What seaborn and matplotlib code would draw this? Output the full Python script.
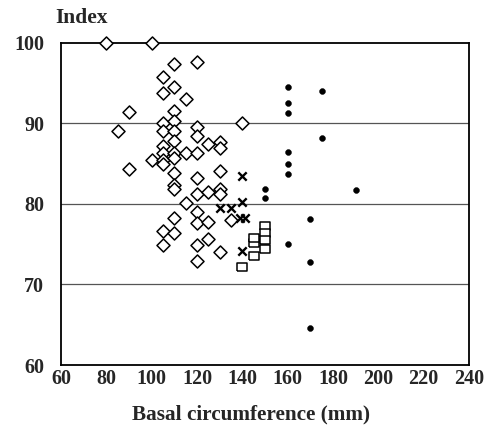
import matplotlib
matplotlib.use("Agg")
import matplotlib.pyplot as plt
import seaborn as sns
import pandas as pd

# Diamonds (open)
diamond_x = [80, 85, 90, 90, 100, 100,
             105, 105, 105, 105, 105, 105, 105, 105, 105, 105,
             110, 110, 110, 110, 110, 110, 110, 110, 110, 110, 110, 110, 110,
             115, 115, 115,
             120, 120, 120, 120, 120, 120, 120, 120, 120, 120,
             125, 125, 125, 125,
             130, 130, 130, 130, 130, 130,
             135, 140]
diamond_y = [100.0, 89.1, 91.4, 84.4, 100.0, 85.4,
             95.7, 93.8, 90.1, 89.1, 87.2, 86.3, 85.5, 84.9, 76.6, 74.9,
             97.4, 94.5, 91.6, 90.3, 89.1, 87.8, 86.3, 85.7, 83.9, 82.4, 81.8, 78.3, 76.4,
             93.0, 86.3, 80.1,
             97.6, 89.6, 88.4, 86.3, 83.2, 81.2, 79.0, 77.6, 74.9, 72.9,
             87.4, 81.5, 77.8, 75.6,
             87.7, 87.0, 84.1, 81.9, 81.2, 74.0,
             78.0, 90.0]

# Filled dots
dot_x = [150, 150, 160, 160, 160, 160, 160, 160, 160, 170, 170, 170, 175, 175, 190]
dot_y = [81.8, 80.7, 94.5, 92.5, 91.3, 86.5, 84.9, 83.7, 75.0, 78.1, 72.8, 64.6, 94.0, 88.2, 81.7]

# Crosses
cross_x = [130, 135, 140, 140, 140, 139, 141]
cross_y = [79.5, 79.5, 83.5, 80.2, 74.2, 78.2, 78.2]

# Open rectangles
square_x = [140, 145, 145, 145, 150, 150, 150, 150]
square_y = [72.2, 73.5, 75.1, 75.8, 77.3, 76.4, 75.5, 74.4]

x_ticks = [60, 80, 100, 120, 140, 160, 180, 200, 220, 240]
y_ticks = [60, 70, 80, 90, 100]
grid_y = [70, 80, 90]

sns.set_style("white")
plt.rcParams['font.family'] = ['Liberation Serif', 'DejaVu Serif']
plt.rcParams['font.weight'] = 'bold'

fig = plt.figure(figsize=(4.94, 4.33), dpi=100)
ax = fig.add_axes([0.1235, 0.157, 0.826, 0.744])

for g in grid_y:
    ax.axhline(g, color='#555555', lw=0.9, zorder=0)

rect = [(-1, -0.7), (1, -0.7), (1, 0.7), (-1, 0.7), (-1, -0.7)]

sns.scatterplot(x=diamond_x, y=diamond_y, marker='D', s=44, facecolor='white',
                edgecolor='black', linewidth=1.1, ax=ax, zorder=3, clip_on=False)
sns.scatterplot(x=square_x, y=square_y, marker=rect, s=58, facecolor='white',
                edgecolor='black', linewidth=1.1, ax=ax, zorder=3)
sns.scatterplot(x=dot_x, y=dot_y, marker='o', s=18, color='black',
                edgecolor='black', ax=ax, zorder=3)
ax.scatter(cross_x, cross_y, marker='x', s=36, color='black', linewidths=1.7, zorder=4)

ax.set_xlim(60, 240)
ax.set_ylim(60, 100)
ax.set_xticks(x_ticks)
ax.set_yticks(y_ticks)
ax.set_xticklabels([str(t) for t in x_ticks], fontsize=14.5, fontweight='bold')
ax.set_yticklabels([str(t) for t in y_ticks], fontsize=14.5, fontweight='bold')
ax.tick_params(axis='x', direction='in', length=5, width=1.2, pad=3, color='black')
ax.tick_params(axis='y', direction='in', length=0, width=1.2, pad=12)
for sp in ax.spines.values():
    sp.set_color('black')
    sp.set_linewidth(1.3)
ax.set_xlabel('')
ax.set_ylabel('')

fig.text(251 / 494, 1 - 414 / 433, 'Basal circumference (mm)', ha='center', va='center',
         fontsize=15.3, fontweight='bold')
fig.text(82 / 494, 1 - 18 / 433, 'Index', ha='center', va='center',
         fontsize=15.5, fontweight='bold')

fig.savefig('out.png', dpi=100)
